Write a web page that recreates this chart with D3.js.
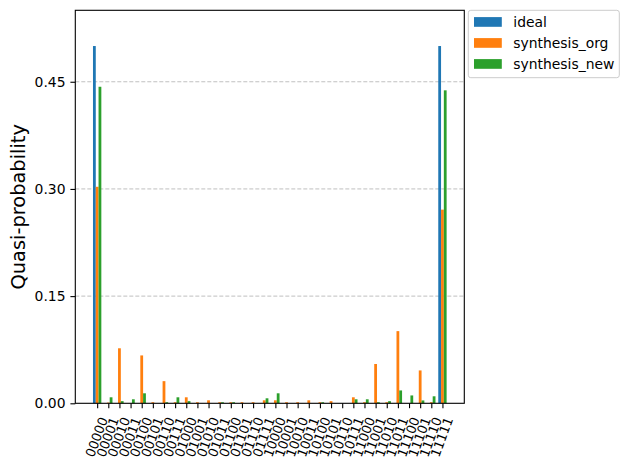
<!DOCTYPE html>
<html>
<head>
<meta charset="utf-8">
<script src="https://cdn.jsdelivr.net/npm/d3@7/dist/d3.min.js"></script>
<style>
  body { margin: 0; background: #fff; }
  svg { font-family: "DejaVu Sans", sans-serif; }
</style>
</head>
<body>
<svg width="628" height="470"></svg>
<script>
// bitstrings on the x axis
var labels = ['00000','00001','00010','00011','00100','00101','00110','00111',
              '01000','01001','01010','01011','01100','01101','01110','01111',
              '10000','10001','10010','10011','10100','10101','10110','10111',
              '11000','11001','11010','11011','11100','11101','11110','11111'];

var seriesNames = ['ideal', 'synthesis_org', 'synthesis_new'];

var ideal = [0.5, 0, 0, 0, 0, 0, 0, 0, 0, 0, 0, 0, 0, 0, 0, 0,
             0, 0, 0, 0, 0, 0, 0, 0, 0, 0, 0, 0, 0, 0, 0, 0.5];

var synthOrg = [0.303, 0.001, 0.077, 0, 0.067, 0.0015, 0.031, 0.0015,
                0.0084, 0.0015, 0.0042, 0.0015, 0.0015, 0.0015, 0.0015, 0.0042,
                0.0042, 0.0015, 0.0015, 0.0042, 0.0015, 0.003, 0, 0.0084,
                0.0015, 0.055, 0.0015, 0.101, 0, 0.046, 0.0015, 0.271];

var synthNew = [0.443, 0.0084, 0.003, 0.0056, 0.014, 0, 0.0015, 0.0084,
                0.003, 0, 0, 0.0015, 0.0015, 0, 0, 0.007,
                0.014, 0, 0, 0, 0.0015, 0, 0, 0.0056,
                0.0056, 0.0015, 0.003, 0.018, 0.011, 0.004, 0.0098, 0.438];

var yTicks = [0, 0.15, 0.30, 0.45];

var colors = ['#1f77b4', '#ff7f0e', '#2ca02c'];
var allSeries = [ideal, synthOrg, synthNew];

// plot box (window.top is taken, so no bare "top")
var pLeft = 75.3, pRight = 464.3, pTop = 10.3, pBottom = 403.3;
var barW = 0.25;

var svg = d3.select('svg');

var x = d3.scaleLinear().domain([-1.9625, 32.9625]).range([pLeft, pRight]);
var y = d3.scaleLinear().domain([0, 0.55]).range([pBottom, pTop]);

// dashed grid, under the bars
svg.append('g').selectAll('line')
    .data(yTicks.slice(1))
    .enter().append('line')
    .attr('x1', pLeft).attr('x2', pRight)
    .attr('y1', function(d){ return y(d) })
    .attr('y2', function(d){ return y(d) })
    .attr('stroke', '#b0b0b0')
    .attr('stroke-width', 0.8)
    .attr('stroke-dasharray', '4,2');

// bars
allSeries.forEach(function(vals, k){
    svg.append('g').selectAll('rect')
        .data(vals)
        .enter().append('rect')
        .attr('x', function(d,i){ return x(i + (k-1)*barW - barW/2) })
        .attr('width', x(barW) - x(0))
        .attr('y', function(d){ return y(d) })
        .attr('height', function(d){ return y(0) - y(d) })
        .attr('fill', colors[k]);
});

// y axis
var yAxis = svg.append('g')
    .attr('transform', 'translate(' + pLeft + ',0)')
    .call(d3.axisLeft(y).tickValues(yTicks).tickFormat(d3.format('.2f'))
          .tickSize(4.9).tickPadding(4.9));
yAxis.select('.domain').remove();
yAxis.selectAll('text').attr('font-size', 13.9).attr('fill', '#000')
    .attr('font-family', 'DejaVu Sans');
yAxis.selectAll('line').attr('stroke', '#000').attr('stroke-width', 1.1);

// x axis, labels turned 70 degrees and centred under the tick
var fsX = 13;
var xAxis = svg.append('g')
    .attr('transform', 'translate(0,' + pBottom + ')')
    .call(d3.axisBottom(x).tickValues(d3.range(labels.length))
          .tickFormat(function(d){ return labels[d] })
          .tickSize(4.9).tickPadding(4.9));
xAxis.select('.domain').remove();
xAxis.selectAll('line').attr('stroke', '#000').attr('stroke-width', 1.1);
xAxis.selectAll('text')
    .attr('font-size', fsX).attr('fill', '#000')
    .attr('font-family', 'DejaVu Sans')
    .attr('text-anchor', 'middle')
    .attr('dominant-baseline', 'central')
    .attr('y', 0).attr('dy', null)
    .attr('transform', function(){
        var L = this.getComputedTextLength();
        var h = fsX * 1.17;
        var a = 70 * Math.PI / 180;
        var H = L * Math.sin(a) + h * Math.cos(a);
        return 'translate(-1,' + (4.9 + 4.9 + 2 + H/2) + ') rotate(-70)';
    });

// frame
svg.append('rect')
    .attr('x', pLeft).attr('y', pTop)
    .attr('width', pRight - pLeft).attr('height', pBottom - pTop)
    .attr('fill', 'none').attr('stroke', '#000').attr('stroke-width', 1.1);

// y label
svg.append('text')
    .attr('transform', 'translate(25,' + ((pTop + pBottom)/2) + ') rotate(-90)')
    .attr('text-anchor', 'middle')
    .attr('font-size', 19.4)
    .text('Quasi-probability');

// legend
var lg = svg.append('g');
lg.append('rect')
    .attr('x', 468.3).attr('y', 10.3)
    .attr('width', 151).attr('height', 67.4)
    .attr('rx', 2.5)
    .attr('fill', '#fff').attr('fill-opacity', 0.8)
    .attr('stroke', '#cccccc').attr('stroke-width', 1);
seriesNames.forEach(function(name, k){
    var cy = 22 + k * 21;
    lg.append('rect')
        .attr('x', 474).attr('y', cy - 4.9)
        .attr('width', 27.8).attr('height', 9.7)
        .attr('fill', colors[k]);
    lg.append('text')
        .attr('x', 513.3).attr('y', cy)
        .attr('dy', '0.35em')
        .attr('font-size', 13.9)
        .text(name);
});
</script>
</body>
</html>
